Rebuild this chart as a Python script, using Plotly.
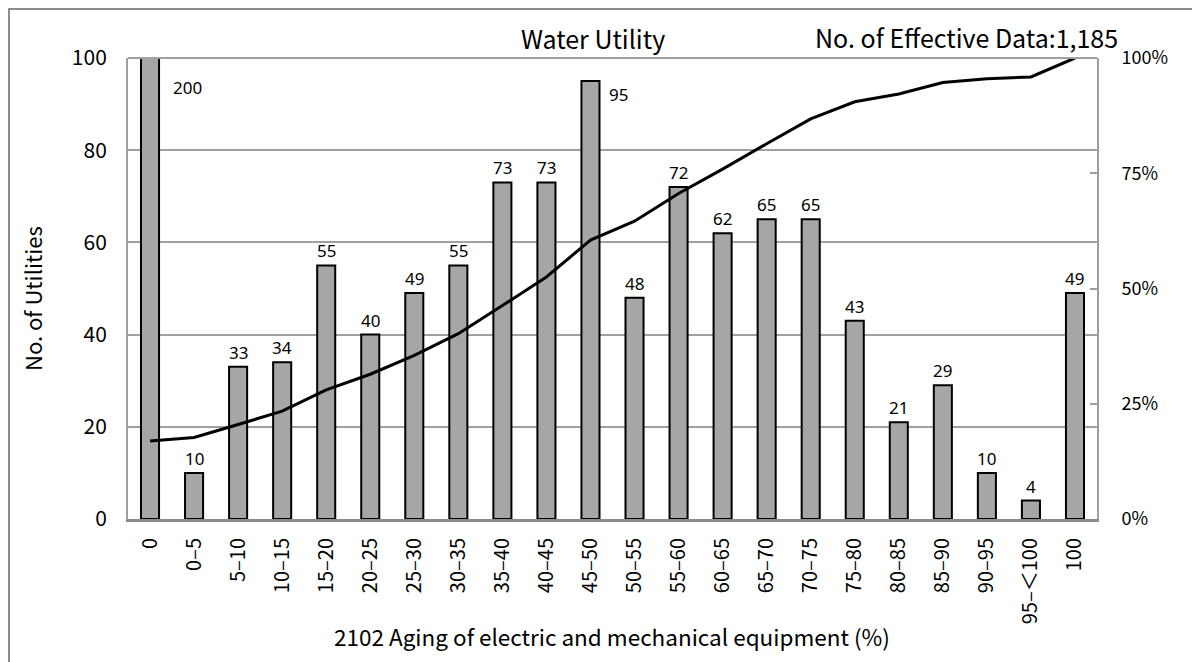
import plotly.graph_objects as go

categories = ["0", "0–5", "5–10", "10–15", "15–20", "20–25", "25–30", "30–35", "35–40",
              "40–45", "45–50", "50–55", "55–60", "60–65", "65–70", "70–75", "75–80",
              "80–85", "85–90", "90–95", "95–＜100", "100"]
counts = [200, 10, 33, 34, 55, 40, 49, 55, 73, 73, 95, 48, 72, 62, 65, 65, 43, 21, 29, 10, 4, 49]
cumulative = [0.169, 0.177, 0.205, 0.234, 0.280, 0.314, 0.355, 0.402, 0.463, 0.525, 0.605,
              0.646, 0.706, 0.759, 0.814, 0.868, 0.905, 0.922, 0.947, 0.955, 0.959, 1.0]
left_ticks = [0, 20, 40, 60, 80, 100]
right_ticks = [0, 0.25, 0.5, 0.75, 1.0]
right_labels = ["0%", "25%", "50%", "75%", "100%"]

JP = "Noto Sans CJK JP"
LBL = "Noto Sans"

# figure geometry (pixels)
W, H = 1192, 654
L, T, PW, PH = 120, 50, 969, 461
R = W - L - PW
B = H - T - PH


def px(fx):
    return (fx - L) / PW


def py(fy):
    return (T + PH - fy) / PH


fig = go.Figure()
fig.add_trace(go.Bar(
    x=categories, y=counts,
    marker=dict(color="#a6a6a6", line=dict(color="black", width=2)),
    showlegend=False, hoverinfo="x+y",
))
fig.add_trace(go.Scatter(
    x=categories, y=cumulative, yaxis="y2", mode="lines",
    line=dict(color="black", width=3), showlegend=False,
))

annotations = []
for i, v in enumerate(counts):
    if v >= 95:
        annotations.append(dict(x=i, y=min(v, 100), xref="x", yref="y", text=str(v),
                                showarrow=False, xanchor="left", yanchor="top",
                                xshift=17 if v < 100 else 21, yshift=0 if v < 100 else -16,
                                font=dict(family=LBL, size=17, color="black")))
    else:
        annotations.append(dict(x=i, y=v, xref="x", yref="y", text=str(v),
                                showarrow=False, yanchor="bottom", yshift=1,
                                font=dict(family=LBL, size=17, color="black")))

annotations += [
    dict(x=px(585), y=py(30), xref="paper", yref="paper", text="Water Utility",
         xanchor="center", yanchor="middle",
         showarrow=False, font=dict(family=JP, size=25, color="black")),
    dict(x=px(958), y=py(29), xref="paper", yref="paper", text="No. of Effective Data:1,185",
         xanchor="center", yanchor="middle",
         showarrow=False, font=dict(family=JP, size=25, color="black")),
    dict(x=px(604), y=py(628), xref="paper", yref="paper",
         text="2102 Aging of electric and mechanical equipment (%)",
         xanchor="center", yanchor="middle",
         showarrow=False, font=dict(family=JP, size=22.5, color="black")),
    dict(x=px(24), y=py(291), xref="paper", yref="paper", text="No. of Utilities",
         xanchor="center", yanchor="middle",
         textangle=-90, showarrow=False, font=dict(family=JP, size=22, color="black")),
]

fig.update_layout(
    width=W, height=H,
    margin=dict(l=L, r=R, t=T, b=B, autoexpand=False),
    paper_bgcolor="white", plot_bgcolor="white",
    bargap=0.59,
    font=dict(family=JP, color="black"),
    xaxis=dict(
        type="category", range=[-0.5, len(categories) - 0.5], tickangle=-90, showgrid=False,
        tickfont=dict(family=JP, size=20, color="black"), ticklabelstandoff=8,
        showline=True, linecolor="#8c8c8c", linewidth=3, ticks="",
    ),
    yaxis=dict(
        range=[0, 100], tickvals=left_ticks, showgrid=True, gridcolor="#a0a0a0", gridwidth=2,
        tickfont=dict(family=JP, size=21, color="black"), ticks="", ticklabelstandoff=15,
        showline=True, linecolor="#a0a0a0", linewidth=2, zeroline=False,
    ),
    yaxis2=dict(
        range=[0, 1], overlaying="y", side="right", tickvals=right_ticks, ticktext=right_labels,
        showgrid=False, zeroline=False, showline=True, linecolor="#a0a0a0", linewidth=2,
        ticks="inside", ticklen=7, tickcolor="#a0a0a0", tickwidth=2, ticklabelstandoff=19,
        tickfont=dict(family=JP, size=18, color="black"),
    ),
    annotations=annotations,
    shapes=[
        dict(type="line", xref="paper", yref="paper", x0=0, x1=1, y0=1, y1=1,
             line=dict(color="#a0a0a0", width=2)),
        dict(type="rect", xref="paper", yref="paper",
             x0=px(1), x1=px(1185), y0=py(670), y1=py(1),
             line=dict(color="#8c8c8c", width=2), layer="below"),
    ],
)

fig.write_html("out.html")
